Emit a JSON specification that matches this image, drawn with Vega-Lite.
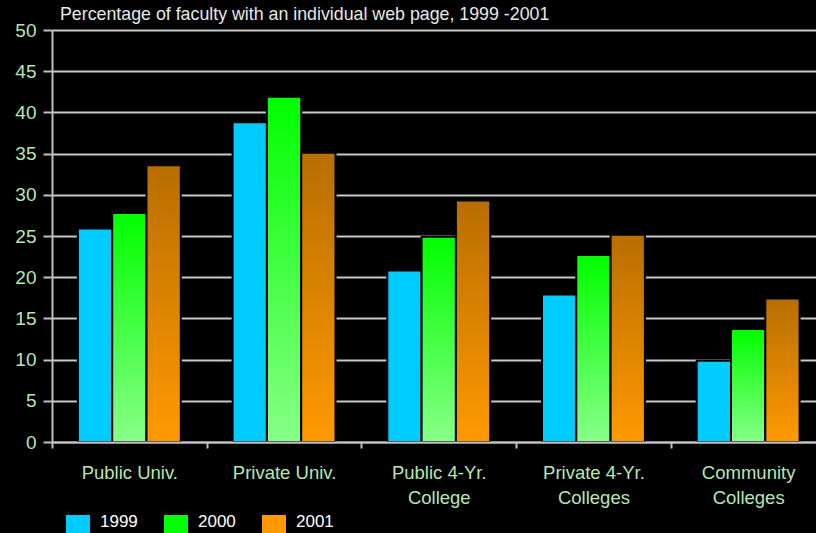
{
  "$schema": "https://vega.github.io/schema/vega-lite/v6.json",
  "autosize": {"type": "none"},
  "width": 764,
  "height": 412,
  "padding": {"left": 52, "top": 30, "right": 0, "bottom": 91},
  "background": "#000000",
  "title": {
    "text": "Percentage of faculty with an individual web page, 1999 -2001",
    "anchor": "start",
    "frame": "group",
    "fontSize": 17.8,
    "font": "Liberation Sans",
    "fontWeight": "normal",
    "color": "#e8e8e8",
    "baseline": "alphabetic",
    "offset": 9,
    "dx": 8,
    "dy": 26
  },
  "data": {
    "values": [
      {"category": "Public Univ.", "year": "1999", "pct": 25.9},
      {"category": "Public Univ.", "year": "2000", "pct": 27.8},
      {"category": "Public Univ.", "year": "2001", "pct": 33.6},
      {"category": "Private Univ.", "year": "1999", "pct": 38.8},
      {"category": "Private Univ.", "year": "2000", "pct": 41.9},
      {"category": "Private Univ.", "year": "2001", "pct": 35.1},
      {"category": "Public 4-Yr. College", "year": "1999", "pct": 20.8},
      {"category": "Public 4-Yr. College", "year": "2000", "pct": 24.9},
      {"category": "Public 4-Yr. College", "year": "2001", "pct": 29.3},
      {"category": "Private 4-Yr. Colleges", "year": "1999", "pct": 17.9},
      {"category": "Private 4-Yr. Colleges", "year": "2000", "pct": 22.7},
      {"category": "Private 4-Yr. Colleges", "year": "2001", "pct": 25.15},
      {"category": "Community Colleges", "year": "1999", "pct": 9.85},
      {"category": "Community Colleges", "year": "2000", "pct": 13.7},
      {"category": "Community Colleges", "year": "2001", "pct": 17.4}
    ]
  },
  "mark": {"type": "bar", "stroke": "#000000", "strokeWidth": 2},
  "encoding": {
    "x": {
      "field": "category",
      "type": "nominal",
      "sort": null,
      "scale": {"range": [0, 773.5], "paddingInner": 0, "paddingOuter": 0},
      "axis": {
        "title": null,
        "labelAngle": 0,
        "labelFont": "Liberation Sans",
        "labelFontSize": 18.5,
        "labelColor": "#b8e6b0",
        "labelLineHeight": 25,
        "labelBaseline": "top",
        "labelPadding": 15,
        "labelLimit": 300,
        "tickBand": "extent",
        "tickSize": 6,
        "tickWidth": 2,
        "tickColor": "#c0c0c0",
        "domainColor": "#c0c0c0",
        "domainWidth": 2,
        "grid": false,
        "zindex": 1,
        "labelExpr": "datum.label == 'Public 4-Yr. College' ? ['Public 4-Yr.', 'College'] : datum.label == 'Private 4-Yr. Colleges' ? ['Private 4-Yr.', 'Colleges'] : datum.label == 'Community Colleges' ? ['Community', 'Colleges'] : datum.label"
      }
    },
    "xOffset": {
      "field": "year",
      "type": "nominal",
      "scale": {"paddingInner": 0, "paddingOuter": 0.755}
    },
    "y": {
      "field": "pct",
      "type": "quantitative",
      "scale": {"domain": [0, 50], "nice": false},
      "axis": {
        "title": null,
        "values": [0, 5, 10, 15, 20, 25, 30, 35, 40, 45, 50],
        "labelFont": "Liberation Sans",
        "labelFontSize": 19,
        "labelColor": "#b8e6b0",
        "labelPadding": 7,
        "tickSize": 9,
        "tickWidth": 2,
        "tickColor": "#c0c0c0",
        "domainColor": "#c0c0c0",
        "domainWidth": 2,
        "grid": true,
        "gridColor": "#c8c8c8",
        "gridWidth": 2,
        "gridOpacity": 1,
        "zindex": 0
      }
    },
    "color": {
      "field": "year",
      "type": "nominal",
      "scale": {"domain": ["1999", "2000", "2001"], "range": ["#00ccff", "#00ff00", "#ff9900"]},
      "condition": [
        {
          "test": "datum.year === '2000'",
          "value": {"gradient": "linear", "x1": 0, "y1": 0, "x2": 0, "y2": 1,
            "stops": [{"offset": 0, "color": "#00ff00"}, {"offset": 1, "color": "#88ff88"}]}
        },
        {
          "test": "datum.year === '2001'",
          "value": {"gradient": "linear", "x1": 0, "y1": 0, "x2": 0, "y2": 1,
            "stops": [{"offset": 0, "color": "#b86e00"}, {"offset": 1, "color": "#ff9900"}]}
        }
      ],
      "legend": {
        "title": null,
        "orient": "none",
        "direction": "horizontal",
        "legendX": 14,
        "legendY": 485,
        "padding": 0,
        "symbolType": "square",
        "symbolSize": 576,
        "symbolStrokeWidth": 0,
        "symbolOpacity": 1,
        "labelFont": "Liberation Sans",
        "labelFontSize": 17,
        "labelColor": "#ffffff",
        "labelBaseline": "alphabetic",
        "labelOffset": 10,
        "columnPadding": 26
      }
    }
  },
  "config": {
    "view": {"stroke": null},
    "font": "Liberation Sans"
  }
}
